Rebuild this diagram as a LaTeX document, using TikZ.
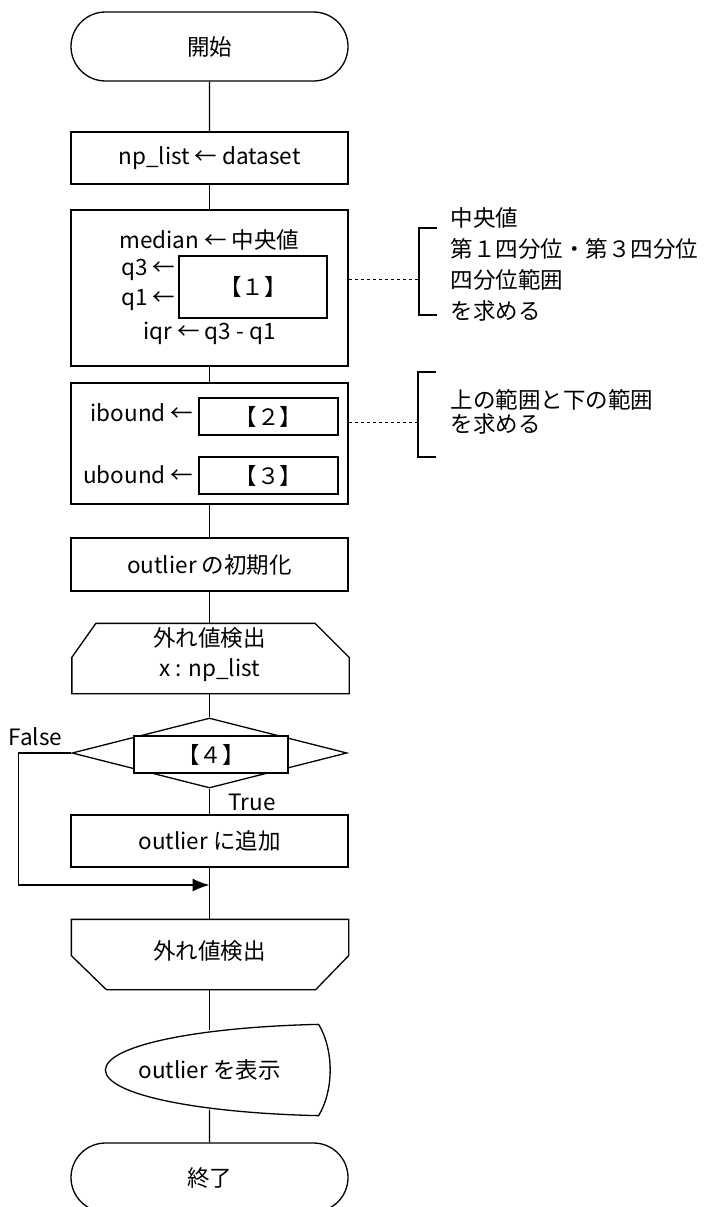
\documentclass[tikz,border=0pt]{standalone}
\usepackage{fontspec}
\setmainfont{Noto Sans CJK JP}
\usetikzlibrary{shapes.geometric,shapes.misc,arrows.meta,calc}
\newcommand{\flowfont}{\fontsize{22.5pt}{30pt}\selectfont}
\tikzset{
  proc/.style={draw, rectangle, minimum width=277pt, minimum height=52pt, inner sep=0pt, font=\flowfont},
  subbox/.style={draw, rectangle, fill=white, inner sep=0pt, font=\flowfont},
  term/.style={draw, rounded rectangle, minimum width=277pt, minimum height=69pt, inner sep=0pt, font=\flowfont},
  txt/.style={inner sep=0pt, font=\flowfont},
  hold/.style={inner sep=0pt, minimum width=276pt, minimum height=69pt},
  link/.style={dash pattern=on 3pt off 3pt, line width=1pt},
}
\begin{document}
\begin{tikzpicture}[x=1pt, y=-1pt, line width=1.3pt]
                    \useasboundingbox (0,0) rectangle (709,1207);
                    % main column
                    \node[term] (start) at (209.5,46.5) {開始};
                    \node[proc] (init) at (209.5,158) {np\_list ← dataset};
                    \node[proc, minimum height=156pt] (stats) at (209.5,288) {};
                    \node[subbox, minimum width=148pt, minimum height=62pt] (blank1) at (253,287) {【１】};
                    \node[txt] (med) at (209.5,240) {median ← 中央値};
                    \node[txt, anchor=east] (q3) at (176,270) {q3 ←};
                    \node[txt, anchor=east] (q1) at (176,300) {q1 ←};
                    \node[txt] (iqr) at (209.5,333) {iqr ← q3 - q1};
                    \node[proc, minimum height=121pt] (bound) at (209.5,443.5) {};
                    \node[subbox, minimum width=139pt, minimum height=37pt] (blank2) at (268.5,416.5) {【２】};
                    \node[subbox, minimum width=139pt, minimum height=37pt] (blank3) at (268.5,475.5) {【３】};
                    \node[txt, anchor=east] (lb) at (194,413) {ibound ←};
                    \node[txt, anchor=east] (ub) at (194,475) {ubound ←};
                    \node[proc, minimum height=53pt] (reset) at (209.5,564.5) {outlier の初期化};
                    % loop
                    \node[hold] (loopstart) at (210.5,658.5) {};
                    \draw (loopstart.south west) -- ($(loopstart.north west)+(0,34)$) -- ($(loopstart.north west)+(24,0)$)
                          -- ($(loopstart.north east)+(-34,0)$) -- ($(loopstart.north east)+(0,34)$) -- (loopstart.south east) -- cycle;
                    \node[txt, align=center] (lhead) at (209.5,655) {外れ値検出\\x : np\_list};
                    \node[draw, diamond, aspect=3.93, minimum width=275pt, minimum height=70pt, inner sep=0pt] (cond) at (209.5,753) {};
                    \node[subbox, minimum width=154pt, minimum height=37pt] (blank4) at (211,754.5) {【４】};
                    \node[txt, anchor=west] (no) at (8,737) {False};
                    \node[txt, anchor=west] (yes) at (228,802) {True};
                    \node[proc] (add) at (209.5,841) {outlier に追加};
                    \coordinate (join) at (209.5,885);
                    \node[hold] (loopend) at (210,954.5) {};
                    \draw (loopend.north west) -- ($(loopend.south west)+(0,-34)$) -- ($(loopend.south west)+(35,0)$)
                          -- ($(loopend.south east)+(-33,0)$) -- ($(loopend.south east)+(0,-34)$) -- (loopend.north east) -- cycle;
                    \node[txt] (lfoot) at (209.5,951) {外れ値検出};
                    % output and end
                    \node[inner sep=0pt, minimum width=212pt, minimum height=90pt] (show) at (212,1070) {};
                    \draw (show.north east) .. controls (200,1027) and (106,1045) .. (show.west)
                          .. controls (106,1095) and (200,1113) .. (show.south east)
                          .. controls (334,1090) and (334,1050) .. (show.north east);
                    \node[txt] (showtxt) at (209.5,1070) {outlier を表示};
                    \node[term] (end) at (209.5,1177.5) {終了};
                    % connectors
                    \draw (start) -- (init);
                    \draw (init) -- (stats);
                    \draw (stats) -- (bound);
                    \draw (bound) -- (reset);
                    \draw (reset) -- (loopstart.north -| reset);
                    \draw (loopstart.south -| reset) -- (cond);
                    \draw (cond) -- (add);
                    \draw (add) -- (loopend.north -| add);
                    \draw (loopend.south -| add) -- ($(show.north -| add)+(0,6)$);
                    \draw ($(show.south -| add)+(0,-6)$) -- (end);
                    \draw[-{Latex[length=17pt,width=13pt]}] (cond.west) -- ++(-53,0) |- (join);
                    % notes
                    \coordinate (br1) at (419,279);
                    \coordinate (br2) at (418,422);
                    \draw[link] (stats.east |- br1) -- (br1);
                    \draw[link] (bound.east |- br2) -- (br2);
                    \draw (437,228) -- (419,228) -- (419,315) -- (437,315);
                    \draw (436,372) -- (418,372) -- (418,457) -- (436,457);
                    \node[txt, anchor=west, align=left, font=\fontsize{22.5pt}{31pt}\selectfont] (note1) at (450,264) {中央値\\第１四分位・第３四分位\\四分位範囲\\を求める};
                    \node[txt, anchor=west, align=left, font=\fontsize{22.5pt}{24pt}\selectfont] (note2) at (450,412) {上の範囲と下の範囲\\を求める};
                \end{tikzpicture}
\end{document}
